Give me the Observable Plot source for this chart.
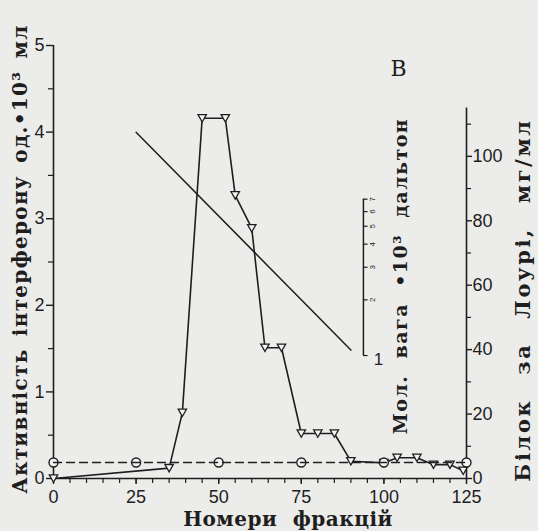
<!DOCTYPE html>
<html>
<head>
<meta charset="utf-8">
<script src="https://cdn.jsdelivr.net/npm/d3@7"></script>
<script src="https://cdn.jsdelivr.net/npm/@observablehq/plot@0.6"></script>
<style>
  html, body { margin: 0; padding: 0; background: #ececea; }
  #chart svg { display: block; }
</style>
</head>
<body>
<div id="chart"></div>
<script>
// Interferon activity (triangles, solid line), units 10^3 per ml
const fractions = [0, 35, 39, 45, 52, 55, 60, 64, 69, 75, 80, 85, 90, 100, 104, 110, 115, 120, 124];
const activity  = [0, 0.12, 0.76, 4.16, 4.16, 3.27, 2.89, 1.51, 1.51, 0.52, 0.52, 0.52, 0.2, 0.18, 0.24, 0.24, 0.16, 0.16, 0.09];

// Circles on dashed line
const circleFractions = [0, 25, 50, 75, 100, 125];
const circleValues    = [0.185, 0.185, 0.185, 0.185, 0.185, 0.185];

// Molecular weight calibration line (kDa)
const mwLineFractions = [25, 90];
const mwLineValues    = [16.1, 1.07];

// Tick labels
const xTicks = [0, 25, 50, 75, 100, 125];
const xMinorTicks = d3.range(0, 126, 5);
const yTicks = [0, 1, 2, 3, 4, 5];
const yMinorTicks = [0.5, 1.5, 2.5, 3.5, 4.5];
const proteinTicks = [0, 20, 40, 60, 80, 100];
const proteinMinorTicks = [10, 30, 50, 70, 90, 110];
const proteinMax = 115;
const mwTicks = [1, 2, 3, 4, 5, 6, 7];

// Axis titles
const yLabel = "Активність інтерферону од.•10³ мл";
const xLabel = "Номери фракцій";
const proteinLabel = "Білок за Лоурі, мг/мл";
const mwLabel = "Мол. вага •10³ дальтон";
const panelLabel = "В";

// scale helpers for secondary axes (map into left-axis units)
const proteinK = 0.0372;
const pToY = p => p * proteinK;
const mwBase = 1.42, mwDecade = 2.136;
const mwToY = m => mwBase + mwDecade * Math.log10(m);
const mwAxisX = 93.8;

const actData = fractions.map((f, i) => ({f, v: activity[i]}));
const circData = circleFractions.map((f, i) => ({f, v: circleValues[i]}));
const mwData = mwLineFractions.map((f, i) => ({f, v: mwToY(mwLineValues[i])}));

const triDown = {
  draw(ctx) {
    ctx.moveTo(-4.2, -3.6);
    ctx.lineTo(4.2, -3.6);
    ctx.lineTo(0, 3.8);
    ctx.closePath();
  }
};

const ink = "#1e1e1e";
const numFont = "Liberation Sans, Arial, sans-serif";
const labFont = "DejaVu Serif, serif";
const lab = {textAnchor: "middle", lineAnchor: "middle", fontFamily: labFont, fontWeight: "bold", fill: ink};

const chart = Plot.plot({
  width: 538,
  height: 531,
  marginLeft: 53,
  marginRight: 72,
  marginTop: 45,
  marginBottom: 53,
  style: { background: "transparent", color: ink, fontFamily: numFont, fontSize: "18px" },
  x: { domain: [0, 125], axis: null },
  y: { domain: [0, 5], axis: null },
  marks: [
    // axis lines
    Plot.ruleX([0], {stroke: ink, strokeWidth: 1.6}),
    Plot.ruleY([0], {stroke: ink, strokeWidth: 1.6}),
    Plot.ruleX([125], {y1: 0, y2: pToY(proteinMax), stroke: ink, strokeWidth: 1.6}),
    // left axis
    Plot.axisY(yTicks, {anchor: "left", tickSize: 7, tickPadding: 2, tickFormat: d => String(d), stroke: ink, strokeWidth: 1.4, fontSize: 18, label: null}),
    Plot.axisY(yMinorTicks, {anchor: "left", tickSize: 5, tickFormat: () => "", stroke: ink, strokeWidth: 1.2, label: null}),
    // bottom axis
    Plot.axisX(xTicks, {anchor: "bottom", tickSize: 6, tickPadding: 6, tickFormat: d => String(d), stroke: ink, strokeWidth: 1.4, fontSize: 18, label: null}),
    Plot.axisX(xMinorTicks, {anchor: "bottom", tickSize: 5, tickFormat: () => "", stroke: ink, strokeWidth: 1.2, label: null}),
    // right (protein) axis
    Plot.axisY(proteinTicks.map(pToY), {anchor: "right", tickSize: 5, tickPadding: 1, tickFormat: d => String(Math.round(d / proteinK)), stroke: ink, strokeWidth: 1.4, fontSize: 18, label: null}),
    Plot.axisY(proteinMinorTicks.map(pToY), {anchor: "right", tickSize: 4, tickFormat: () => "", stroke: ink, strokeWidth: 1.2, label: null}),
    // molecular-weight axis
    Plot.ruleX([mwAxisX], {y1: mwToY(1), y2: mwToY(7), stroke: ink, strokeWidth: 1.5}),
    Plot.ruleY(mwTicks, {y: mwToY, x1: mwAxisX, x2: mwAxisX + 1.4, stroke: ink, strokeWidth: 1.2}),
    Plot.text(mwTicks.filter(m => m > 1), {x: mwAxisX, y: mwToY, dx: 9, rotate: -90, text: d => String(d), fontSize: 8, fill: ink}),
    Plot.text(mwTicks.filter(m => m === 1), {x: mwAxisX, y: mwToY, dx: 15, dy: 4, text: d => String(d), fontSize: 17, fill: ink}),
    // data
    Plot.line(mwData, {x: "f", y: "v", stroke: ink, strokeWidth: 1.5}),
    Plot.line(actData, {x: "f", y: "v", stroke: ink, strokeWidth: 1.6}),
    Plot.dot(actData, {x: "f", y: "v", symbol: triDown, fill: "#f4f4f2", stroke: ink, strokeWidth: 1.3}),
    Plot.dot(circData, {x: "f", y: "v", r: 4.5, fill: "#f4f4f2", stroke: ink, strokeWidth: 1.4}),
    Plot.line(circData, {x: "f", y: "v", stroke: ink, strokeWidth: 1.4, strokeDasharray: "8,5"}),
    // labels
    Plot.text([yLabel], {...lab, frameAnchor: "left", dx: -33, dy: -3, rotate: -90, fontSize: 20}),
    Plot.text([xLabel], {...lab, frameAnchor: "bottom", dx: 28, dy: 41, fontSize: 20}),
    Plot.text([proteinLabel], {...lab, frameAnchor: "right", dx: 57, dy: 38, rotate: -90, fontSize: 21}),
    Plot.text([mwLabel], {...lab, frameAnchor: "right", dx: -66, dy: 14, rotate: -90, fontSize: 19}),
    Plot.text([panelLabel], {...lab, fontWeight: "normal", frameAnchor: "top-right", dx: -68, dy: 23, fontSize: 22})
  ]
});

// typewriter-like spacing of the axis titles
const spacing = new Map([
  [yLabel, {ls: 1.3, ws: 4}],
  [xLabel, {ls: 0.5, ws: 8}],
  [proteinLabel, {ls: 2.6, ws: 14}],
  [mwLabel, {ls: 1.5, ws: 8}]
]);
d3.select(chart).selectAll("text").each(function () {
  const s = spacing.get(this.textContent);
  if (s) {
    this.style.letterSpacing = s.ls + "px";
    this.style.wordSpacing = s.ws + "px";
  }
});
document.getElementById("chart").appendChild(chart);
</script>
</body>
</html>
